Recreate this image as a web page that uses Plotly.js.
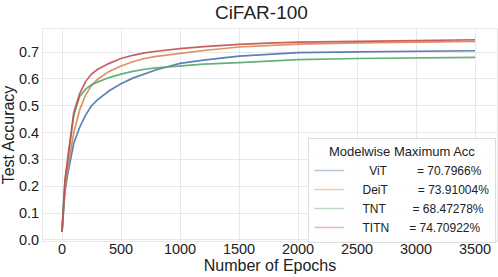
<!DOCTYPE html>
<html><head><meta charset="utf-8">
<script src="https://cdn.plot.ly/plotly-3.0.1.min.js"></script>
<style>html,body{margin:0;padding:0;background:#fff}#c{width:498px;height:277px}</style>
</head><body><div id="c"></div>
<script>
const epochs = [0, 10, 25, 50, 75, 100, 150, 200, 250, 300, 400, 500, 600, 700, 800, 1000, 1200, 1500, 1750, 2000, 2500, 3000, 3500];
const vit  = [0.03, 0.11, 0.18, 0.25, 0.30, 0.36, 0.42, 0.465, 0.50, 0.522, 0.556, 0.582, 0.603, 0.620, 0.634, 0.658, 0.670, 0.685, 0.692, 0.698, 0.701, 0.703, 0.705];
const deit = [0.03, 0.11, 0.19, 0.27, 0.34, 0.40, 0.485, 0.54, 0.575, 0.598, 0.628, 0.648, 0.664, 0.676, 0.684, 0.696, 0.706, 0.719, 0.725, 0.730, 0.734, 0.737, 0.740];
const tnt  = [0.03, 0.13, 0.22, 0.30, 0.39, 0.465, 0.535, 0.562, 0.578, 0.588, 0.605, 0.618, 0.628, 0.636, 0.641, 0.649, 0.655, 0.661, 0.667, 0.672, 0.676, 0.678, 0.680];
const titn = [0.03, 0.13, 0.22, 0.31, 0.40, 0.475, 0.545, 0.59, 0.618, 0.635, 0.658, 0.676, 0.688, 0.697, 0.703, 0.713, 0.720, 0.729, 0.733, 0.737, 0.740, 0.743, 0.746];
const names = ["ViT", "DeiT", "TNT", "TITN"];
const maxAcc = ["70.7966%", "73.91004%", "68.47278%", "74.70922%"];
const colors = ["#4c72b0", "#dd8452", "#55a868", "#c44e52"];
const paleColors = ["#b7c6e0", "#f2cbb4", "#bbdcc3", "#e6b8b9"];
const series = [vit, deit, tnt, titn];
const nb = n => "\u00a0".repeat(n);
const legendLabels = [nb(6)+"ViT"+nb(9)+"= "+maxAcc[0], nb(4)+"DeiT"+nb(9)+"= "+maxAcc[1], nb(4)+"TNT"+nb(8)+"= "+maxAcc[2], nb(4)+"TITN"+nb(6)+"= "+maxAcc[3]];

const traces = [];
series.forEach((s, i) => {
  traces.push({x: epochs, y: s, mode: 'lines', line: {color: colors[i], width: 1.7}, opacity: 0.9, showlegend: false, hoverinfo: 'skip'});
});
series.forEach((s, i) => {
  traces.push({x: [null], y: [null], mode: 'lines', line: {color: paleColors[i], width: 1.5}, name: legendLabels[i], showlegend: true});
});

const font = {family: 'Liberation Sans, Arial, sans-serif', color: '#222'};
const layout = {
  width: 498, height: 277,
  margin: {l: 43, r: 1, t: 29, b: 36},
  paper_bgcolor: '#fff', plot_bgcolor: '#fff',
  font: font,
  title: {text: 'CiFAR-100', font: {size: 19, family: font.family, color: '#222'}, x: 0.481, xref: 'paper', xanchor: 'center', y: 0.955, yanchor: 'middle'},
  xaxis: {range: [-161, 3686], tickvals: [0, 500, 1000, 1500, 2000, 2500, 3000, 3500], ticks: '', ticklabelstandoff: -5, showgrid: true, gridcolor: '#e8e8e8', gridwidth: 1, zeroline: false, showline: true, linecolor: '#e8e8e8', mirror: true, tickfont: {size: 14.5, color: '#222'}, title: {text: 'Number of Epochs', font: {size: 16, color: '#222'}, standoff: 0}},
  yaxis: {range: [-0.004, 0.786], tickvals: [0, 0.1, 0.2, 0.3, 0.4, 0.5, 0.6, 0.7], tickformat: '.1f', ticks: '', showgrid: true, gridcolor: '#e8e8e8', gridwidth: 1, zeroline: false, showline: true, linecolor: '#e8e8e8', mirror: true, tickfont: {size: 14.5, color: '#222'}, title: {text: 'Test Accuracy', font: {size: 16, color: '#222'}, standoff: 4}},
  legend: {x: 0.584, xanchor: 'left', y: 0.485, yanchor: 'top', bgcolor: 'rgba(255,255,255,0.85)', bordercolor: '#dddddd', borderwidth: 1, font: {size: 12, color: '#222'}, title: {text: 'Modelwise Maximum Acc', side: 'top center', font: {size: 13, color: '#222'}}, itemwidth: 30, tracegroupgap: 0}
};
Plotly.newPlot('c', traces, layout, {displayModeBar: false, staticPlot: true});
</script></body></html>
